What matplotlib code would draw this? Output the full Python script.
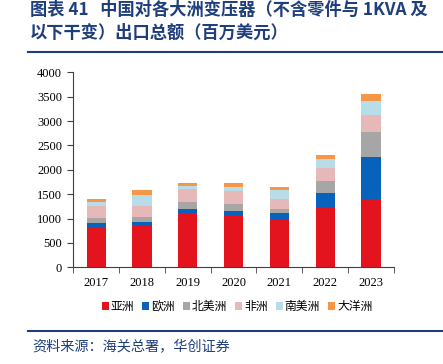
import matplotlib
matplotlib.use("Agg")
import matplotlib.pyplot as plt
from matplotlib.lines import Line2D
from matplotlib.patches import Patch

years = ["2017", "2018", "2019", "2020", "2021", "2022", "2023"]
asia = [829, 856, 1116, 1062, 979, 1233, 1397]
europe = [82, 76, 89, 96, 137, 288, 856]
n_america = [103, 109, 137, 143, 83, 253, 514]
africa = [253, 206, 261, 267, 198, 260, 349]
s_america = [82, 239, 55, 83, 192, 178, 302]
oceania = [48, 103, 68, 75, 62, 96, 137]

series_names = ["亚洲", "欧洲", "北美洲", "非洲", "南美洲", "大洋洲"]
series_vals = [asia, europe, n_america, africa, s_america, oceania]
colors = ["#E3141E", "#0862BC", "#A6A6A6", "#E6B8B7", "#B7DEE8", "#F79646"]
yticks = [0, 500, 1000, 1500, 2000, 2500, 3000, 3500, 4000]

title1 = "图表 41   中国对各大洲变压器（不含零件与 1KVA 及"
title2 = "以下干变）出口总额（百万美元）"
source = "资料来源：海关总署，华创证券"

cjk = ["Noto Sans CJK SC", "DejaVu Sans"]
plt.rcParams['font.family'] = cjk

fig = plt.figure(figsize=(4.43, 3.64), dpi=100)
ax = fig.add_axes([0.1655, 0.2657, 0.7235, 0.5357])

x = list(range(len(years)))
bottom = [0] * len(years)
for name, vals, c in zip(series_names, series_vals, colors):
    ax.bar(x, vals, width=0.42, bottom=bottom, color=c, label=name, linewidth=0)
    bottom = [b + v for b, v in zip(bottom, vals)]

ax.set_xlim(-0.5, len(years) - 0.5)
ax.set_ylim(0, 4000)
ax.set_yticks(yticks)
ax.set_yticklabels([str(t) for t in yticks], family="Liberation Serif", fontsize=9)
ax.set_xticks(x)
ax.set_xticklabels(years, family="Liberation Serif", fontsize=9)
ax.tick_params(axis='x', length=0, pad=7)
ax.set_xticks([i - 0.5 for i in range(len(years) + 1)], minor=True)
ax.tick_params(axis='x', which='minor', length=4, direction='out', color='#404040')
ax.tick_params(axis='y', length=4, direction='out', color='#404040', pad=4)
for s in ["top", "right"]:
    ax.spines[s].set_visible(False)
for s in ["left", "bottom"]:
    ax.spines[s].set_color('#404040')
    ax.spines[s].set_linewidth(0.8)

handles = [Patch(facecolor=c, edgecolor='none') for c in colors]
fig.legend(handles, series_names, loc='center', bbox_to_anchor=(0.535, 0.157),
           ncol=6, frameon=False, handlelength=0.6, handleheight=0.6,
           handletextpad=0.15, columnspacing=0.7, prop={'family': cjk, 'size': 8.5})

title_color = "#1F3E7C"
fig.text(30 / 443, 1 - 10 / 364, title1, color=title_color, fontsize=12.4,
         fontweight='bold', va='center', ha='left')
fig.text(30 / 443, 1 - 33 / 364, title2, color=title_color, fontsize=12.4,
         fontweight='bold', va='center', ha='left')
fig.add_artist(Line2D([28 / 443, 442 / 443], [1 - 52 / 364, 1 - 52 / 364],
                      color=title_color, linewidth=1.5, transform=fig.transFigure))
fig.add_artist(Line2D([28 / 443, 442 / 443], [1 - 330.5 / 364, 1 - 330.5 / 364],
                      color=title_color, linewidth=1.5, transform=fig.transFigure))
fig.text(32 / 443, 1 - 347 / 364, source, color=title_color, fontsize=10.2,
         style='italic', va='center', ha='left')

fig.savefig("out.png", dpi=100)
